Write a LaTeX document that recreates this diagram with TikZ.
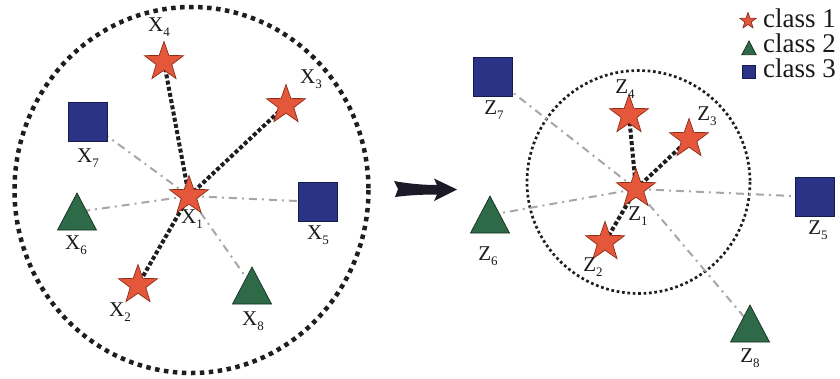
\documentclass[tikz,border=0pt]{standalone}
\usepackage{fontspec}
\setmainfont{Liberation Serif}
\usetikzlibrary{shapes.geometric,backgrounds}

\definecolor{starfill}{HTML}{E4573A}
\definecolor{staredge}{HTML}{8E2A18}
\definecolor{sqfill}{HTML}{2A3385}
\definecolor{sqedge}{HTML}{161C48}
\definecolor{trifill}{HTML}{2E6A47}
\definecolor{triedge}{HTML}{14301E}
\definecolor{dotline}{HTML}{1E1E1E}
\definecolor{dashline}{HTML}{A6A6AC}
\definecolor{arrowc}{HTML}{1C1A26}

% subscripted point label
\newcommand\ptlabel[2]{#1\raisebox{-5pt}{\fontsize{13}{13}\selectfont #2}}

\tikzset{
  starpt/.style={star, star points=5, star point ratio=2.5, minimum size=41pt,
    inner sep=0pt, fill=starfill, draw=staredge, line width=0.7pt},
  sqpt/.style={rectangle, minimum size=39pt, inner sep=0pt, fill=sqfill,
    draw=sqedge, line width=0.7pt},
  tript/.pic={\filldraw[fill=trifill, draw=triedge, line width=0.7pt]
    (-19.5,18) -- (0,-19) -- (19.5,18) -- cycle;},
  nearlink/.style={draw=dotline, line width=4pt, dash pattern=on 4pt off 2.3pt},
  farlink/.style={draw=dashline, line width=2pt, dash pattern=on 8pt off 5pt on 2pt off 5pt},
  bigring/.style={draw=dotline, line width=4.5pt, dash pattern=on 4.5pt off 4.5pt},
  smallring/.style={draw=dotline, line width=2.7pt, dash pattern=on 2.7pt off 2.7pt},
  lbl/.style={font=\fontsize{21}{21}\selectfont, inner sep=0pt, text=black!90},
  legtext/.style={font=\fontsize{27}{27}\selectfont, inner sep=0pt, anchor=base west, text=black!90},
}

\begin{document}
\begin{tikzpicture}[x=1pt,y=-1pt]
\useasboundingbox (0,0) rectangle (840,378);

% ---------- original space ----------
\node[starpt] (x1) at (189,196) {};
\node[starpt] (x2) at (138,285) {};
\node[starpt] (x3) at (286,105) {};
\node[starpt] (x4) at (164,62) {};
\node[sqpt]   (x5) at (318,202) {};
\node[sqpt]   (x7) at (88,122) {};
\coordinate (x6) at (77,212);
\coordinate (x8) at (252,286);
\pic at (x6) {tript};
\pic at (x8) {tript};

\node[lbl] (lx1) at (192,219) {\ptlabel{X}{1}};
\node[lbl] (lx2) at (120,312) {\ptlabel{X}{2}};
\node[lbl] (lx3) at (311,79)  {\ptlabel{X}{3}};
\node[lbl] (lx4) at (159,27)  {\ptlabel{X}{4}};
\node[lbl] (lx5) at (318,235) {\ptlabel{X}{5}};
\node[lbl] (lx6) at (76,245)  {\ptlabel{X}{6}};
\node[lbl] (lx7) at (88,158)  {\ptlabel{X}{7}};
\node[lbl] (lx8) at (253,321) {\ptlabel{X}{8}};

% ---------- embedded space ----------
\node[starpt] (z1) at (636,189) {};
\node[starpt] (z2) at (605,242) {};
\node[starpt] (z3) at (689,139) {};
\node[starpt] (z4) at (629,115) {};
\node[sqpt]   (z5) at (815,197) {};
\node[sqpt]   (z7) at (493,77) {};
\coordinate (z6) at (490,215);
\coordinate (z8) at (750,324);
\pic at (z6) {tript};
\pic at (z8) {tript};

\node[lbl] (lz1) at (638,216) {\ptlabel{Z}{1}};
\node[lbl] (lz2) at (593,267) {\ptlabel{Z}{2}};
\node[lbl] (lz3) at (707,116) {\ptlabel{Z}{3}};
\node[lbl] (lz4) at (625,89)  {\ptlabel{Z}{4}};
\node[lbl] (lz5) at (818,230) {\ptlabel{Z}{5}};
\node[lbl] (lz6) at (488,256) {\ptlabel{Z}{6}};
\node[lbl] (lz7) at (494,110) {\ptlabel{Z}{7}};
\node[lbl] (lz8) at (750,358) {\ptlabel{Z}{8}};

% ---------- neighbourhoods and links (behind the points) ----------
\begin{pgfonlayer}{background}
  \node[coordinate] (ringx) at (191.5,190) {};
  \node[coordinate] (ringz) at (638.5,182) {};
  \draw[bigring] (ringx) ellipse [x radius=177, y radius=183];
  \draw[smallring] (ringz) circle [radius=111.5];

  \draw[farlink] (x1.center) -- (x7.center);
  \draw[farlink] (x1.center) -- (x6);
  \draw[farlink] (x1.center) -- (x5.center);
  \draw[farlink] (x1.center) -- (x8);
  \draw[nearlink] (x1.center) -- (x4.center);
  \draw[nearlink] (x1.center) -- (x3.center);
  \draw[nearlink] (x1.center) -- (x2.center);

  \draw[farlink] (z1.center) -- (z7.center);
  \draw[farlink] (z1.center) -- (z6);
  \draw[farlink] (z1.center) -- (z5.center);
  \draw[farlink] (z1.center) -- (z8);
  \draw[nearlink] (z1.center) -- (z4.center);
  \draw[nearlink] (z1.center) -- (z3.center);
  \draw[nearlink] (z1.center) -- (z2.center);
\end{pgfonlayer}

% ---------- mapping arrow ----------
\fill[arrowc] (394,181) .. controls (410,184) and (425,185) .. (437,185)
  -- (434,178.5) -- (457,189.5) -- (434,201) -- (437,194.5)
  .. controls (425,194.5) and (410,195) .. (395,197) -- (398,189) -- cycle;

% ---------- legend ----------
\node[starpt, minimum size=17pt] (k1) at (748,21) {};
\coordinate (k2) at (749,48);
\pic[scale=0.37] at (k2) {tript};
\node[sqpt, minimum size=13pt] (k3) at (749,72) {};
\node[legtext] (c1) at (763,27) {class 1};
\node[legtext] (c2) at (763,52) {class 2};
\node[legtext] (c3) at (763,77) {class 3};
\end{tikzpicture}
\end{document}
